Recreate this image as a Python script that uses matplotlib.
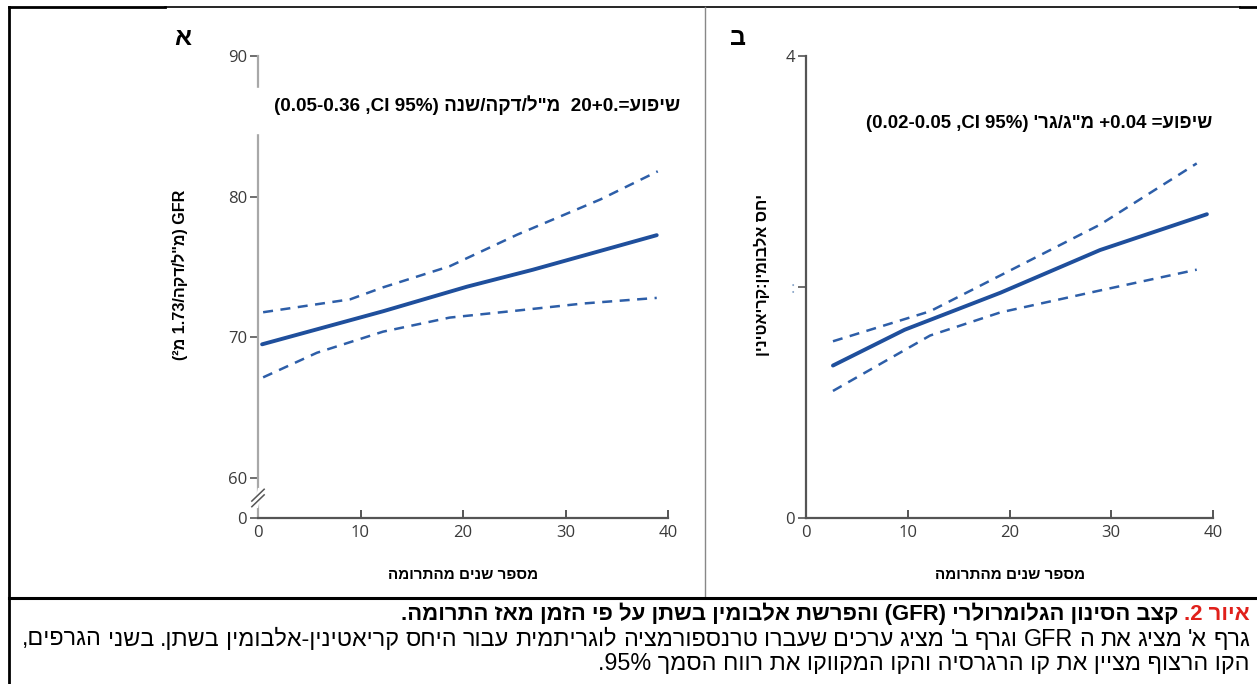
import re
import matplotlib
matplotlib.use("Agg")
import matplotlib.pyplot as plt
from matplotlib.lines import Line2D

W, H = 1257, 684


def rtl(s):
    # crude visual ordering for Hebrew text (matplotlib draws left to right)
    r = s[::-1]
    r = re.sub(r'[A-Za-z0-9%][A-Za-z0-9.%+\-]*[A-Za-z0-9%]|[A-Za-z0-9]', lambda m: m.group(0)[::-1], r)
    return r.translate(str.maketrans('()', ')('))


# panel A: GFR by years since donation
gfr_years = [0.4, 12.2, 20.4, 26.8, 38.9]
gfr_fit = [69.5, 71.85, 73.6, 74.8, 77.26]
gfr_up_years = [0.5, 9.0, 12.2, 18.7, 25.3, 33.4, 39.0]
gfr_upper = [71.78, 72.7, 73.55, 75.05, 77.3, 79.8, 81.8]
gfr_lo_years = [0.5, 5.75, 12.2, 18.7, 25.3, 31.7, 38.9]
gfr_lower = [67.15, 68.9, 70.4, 71.4, 71.9, 72.4, 72.8]

# panel B: log albumin:creatinine ratio
acr_years = [2.65, 9.7, 19.1, 28.9, 39.4]
acr_fit = [1.32, 1.63, 1.95, 2.32, 2.63]
acr_up_years = [2.65, 12.2, 19.1, 28.9, 38.4]
acr_upper = [1.53, 1.79, 2.10, 2.54, 3.07]
acr_lo_years = [2.65, 12.2, 19.1, 28.9, 38.4]
acr_lower = [1.10, 1.58, 1.78, 1.97, 2.15]

x_ticks = [0, 10, 20, 30, 40]
gfr_zero = 57.15  # where "0" sits below the axis break
gfr_ticks = [gfr_zero, 60, 70, 80, 90]
gfr_tick_labels = ["0", "60", "70", "80", "90"]
acr_ticks = [0, 2, 4]
acr_tick_labels = ["0", ":", "4"]

xlabel = rtl("מספר שנים מהתרומה")
ylabel_a = rtl('GFR (מ"ל/דקה/1.73 מ²)')
ylabel_b = rtl("יחס אלבומין:קריאטינין")
note_a = "(0.05-0.36 ,CI 95%) " + rtl('מ"ל/דקה/שנה') + "  20+0.=" + rtl("שיפוע")
note_b = "(0.02-0.05 ,CI 95%) " + rtl("מ\"ג/גר'") + " +0.04 =" + rtl("שיפוע")
cap_red = rtl("איור 2.")
cap_1 = rtl("קצב הסינון הגלומרולרי (GFR) והפרשת אלבומין בשתן על פי הזמן מאז התרומה.")
cap_2 = rtl("גרף א' מציג את ה GFR וגרף ב' מציג ערכים שעברו טרנספורמציה לוגריתמית עבור היחס קריאטינין-אלבומין בשתן. בשני הגרפים,")
cap_3 = rtl("הקו הרצוף מציין את קו הרגרסיה והקו המקווקו את רווח הסמך 95%.")

plt.rcParams['font.family'] = ['Liberation Sans', 'DejaVu Sans']

blue = '#1f4f9c'
blue_d = '#2d5ea8'
tick_col = '#3a3a3a'


def fx(px):
    return px / W


def fy(py):
    return 1 - py / H


fig = plt.figure(figsize=(W / 100, H / 100), dpi=100)

ax1 = fig.add_axes([fx(258), fy(518), (668 - 258) / W, (518 - 56) / H])
ax2 = fig.add_axes([fx(806), fy(518), (1213 - 806) / W, (518 - 56) / H])

ax1.plot(gfr_years, gfr_fit, color=blue, lw=2.8, solid_capstyle='round')
ax1.plot(gfr_up_years, gfr_upper, color=blue_d, lw=1.8, linestyle=(0, (4, 3)))
ax1.plot(gfr_lo_years, gfr_lower, color=blue_d, lw=1.8, linestyle=(0, (4, 3)))
ax1.set_xlim(0, 40)
ax1.set_ylim(gfr_zero, 90)
ax1.set_yticks(gfr_ticks)
ax1.set_yticklabels(gfr_tick_labels)

ax2.plot(acr_years, acr_fit, color=blue, lw=2.8, solid_capstyle='round')
ax2.plot(acr_up_years, acr_upper, color=blue_d, lw=1.8, linestyle=(0, (4, 3)))
ax2.plot(acr_lo_years, acr_lower, color=blue_d, lw=1.8, linestyle=(0, (4, 3)))
ax2.set_xlim(0, 40)
ax2.set_ylim(0, 4)
ax2.set_yticks(acr_ticks)
ax2.set_yticklabels(acr_tick_labels)

for ax, ycol in [(ax1, '#a8a8a8'), (ax2, '#555555')]:
    ax.spines['top'].set_visible(False)
    ax.spines['right'].set_visible(False)
    ax.spines['left'].set_color(ycol)
    ax.spines['left'].set_linewidth(1.6)
    ax.spines['bottom'].set_color('#555555')
    ax.spines['bottom'].set_linewidth(1.6)
    ax.set_xticks(x_ticks)
    ax.tick_params(axis='x', direction='in', length=6, width=1.4, color='#555555',
                   labelsize=12, labelcolor=tick_col, pad=5)
    ax.tick_params(axis='y', direction='out', length=6, width=1.2, color='#555555',
                   labelsize=12, labelcolor=tick_col, pad=2)
    for lab in ax.get_xticklabels() + ax.get_yticklabels():
        lab.set_family('Open Sans')
ax2.get_yticklabels()[1].set_color('#8aa6c8')

# axis break on panel A
yb = gfr_zero + (518 - 498) / 14.05
ax1.plot([-0.15, 0.15], [yb - 0.55, yb + 0.55], color='white', lw=3, clip_on=False, zorder=5)
for dy in (-0.2, 0.2):
    ax1.plot([-0.6, 0.6], [yb + dy - 0.42, yb + dy + 0.42], color='#555555', lw=1.1,
             clip_on=False, zorder=6)

# gap in panel A spine behind the note
fig.add_artist(plt.Rectangle((fx(250), fy(133)), 16 / W, 45 / H, color='white', zorder=5))

fig.text(fx(680), fy(105), note_a, ha='right', va='center', fontsize=13.6, fontweight='bold')
fig.text(fx(1212), fy(124), note_b, ha='right', va='center', fontsize=13.4, fontweight='bold')

fig.text(fx(463), fy(575), xlabel, ha='center', va='center', fontsize=11, fontweight='bold')
fig.text(fx(1010), fy(575), xlabel, ha='center', va='center', fontsize=11, fontweight='bold')
fig.text(fx(180), fy(275), ylabel_a, ha='center', va='center', rotation=90, fontsize=11.6,
         fontweight='bold')
fig.text(fx(762), fy(275), ylabel_b, ha='center', va='center', rotation=90, fontsize=11.6,
         fontweight='bold')

fig.text(fx(183), fy(38), rtl("א"), ha='center', va='center', fontsize=18, fontweight='bold')
fig.text(fx(738), fy(38), rtl("ב"), ha='center', va='center', fontsize=18, fontweight='bold')

# frame lines
frame = [
    ((9, 9), (7, 684), 'black', 2.0),
    ((9, 165), (7, 7), 'black', 2.0),
    ((165, 1240), (7, 7), 'black', 1.2),
    ((1240, 1257), (7, 7), 'black', 2.0),
    ((705, 705), (7, 598), '#888888', 1.0),
    ((9, 1257), (598, 598), 'black', 2.2),
]
for xs, ys, c, lw in frame:
    fig.add_artist(Line2D([fx(x) for x in xs], [fy(y) for y in ys], color=c, lw=lw))

# caption
cap_fam = ['Liberation Sans Narrow', 'Liberation Sans']
t_red = fig.text(fx(1250), fy(614), cap_red, ha='right', va='center', fontsize=15.9,
                 fontweight='bold', color='#e0201b')
fig.canvas.draw()
bb = t_red.get_window_extent()
fig.text(bb.x0 / W, fy(614), cap_1 + " ", ha='right', va='center', fontsize=15.9,
         fontweight='bold')

# justified line 2 (spread words from x=22 to x=1250)
renderer = fig.canvas.get_renderer()
words = cap_2.split(' ')
word_txt = [fig.text(0, fy(639), w, ha='left', va='center', fontsize=16.8, family=cap_fam)
            for w in words]
widths = [t.get_window_extent(renderer).width for t in word_txt]
gap = (1250 - 22 - sum(widths)) / (len(words) - 1)
x = 22
for t, w in zip(word_txt, widths):
    t.set_x(x / W)
    x += w + gap

fig.text(fx(1250), fy(664), cap_3, ha='right', va='center', fontsize=16.8, family=cap_fam)

fig.savefig("out.png", dpi=100)
